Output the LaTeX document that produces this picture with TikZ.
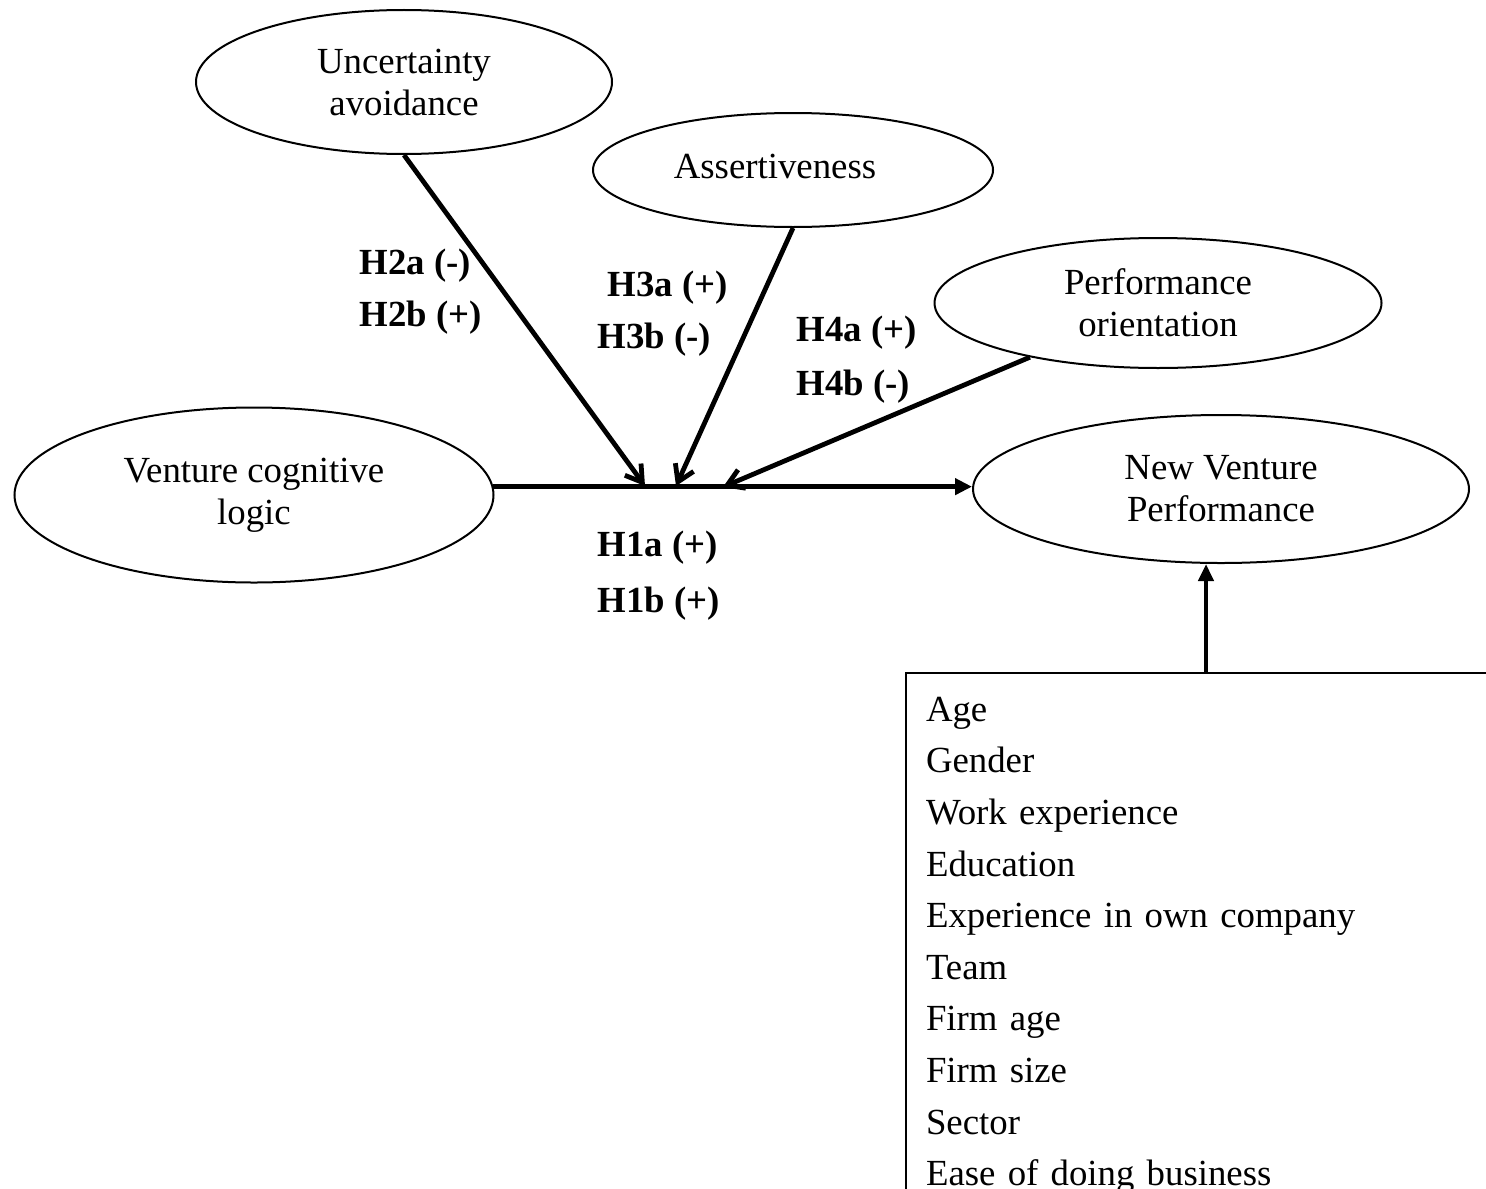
\documentclass[tikz,border=0pt]{standalone}
\usepackage{fontspec}
\setmainfont{Liberation Serif}
\usetikzlibrary{shapes.geometric, arrows.meta}

\begin{document}
\begin{tikzpicture}[
    x=0.5pt, y=-0.5pt,
    construct/.style={ellipse, draw, line width=1pt, inner sep=0pt, align=center, font=\fontsize{18.4}{21}\selectfont},
    hyp/.style={anchor=west, inner sep=0pt, font=\fontsize{18.4}{22}\selectfont\bfseries},
    ctrlbox/.style={rectangle, draw, line width=1pt, anchor=north west, align=left, text width=380pt, inner xsep=10pt, inner ysep=12pt, font=\fontsize{18.4}{25.8}\selectfont},
    mainarrow/.style={-{Triangle[length=8.5pt, width=8pt]}, line width=2.2pt},
    modarrow/.style={-{Straight Barb[length=8pt, width=10pt]}, line width=2.4pt},
    uparrow/.style={-{Triangle[length=8.5pt, width=7.5pt]}, line width=2.2pt}
]
\useasboundingbox (0,0) rectangle (1486,1188);
\clip (0,0) rectangle (1486,1188);

% Moderators
\node[construct, minimum width=208pt, minimum height=72pt] (ua) at (404,82) {Uncertainty\\avoidance};
\node[construct, minimum width=200pt, minimum height=57pt] (assert) at (793,170) {\raisebox{4pt}{Assertiveness}\hspace*{18pt}};
\node[construct, minimum width=223.5pt, minimum height=65pt] (po) at (1158,303) {Performance\\orientation};

% Main constructs
\node[construct, minimum width=239.5pt, minimum height=87.5pt] (vcl) at (254,495) {Venture cognitive\\logic};
\node[construct, minimum width=248pt, minimum height=74pt] (nvp) at (1221,489) {New Venture\\Performance};

% Control variables
\node[ctrlbox] (controls) at (905,672) {Age\\Gender\\Work experience\\Education\\Experience in own company\\Team\\Firm age\\Firm size\\Sector\\Ease of doing business};

% Hypotheses
\node[hyp] (h2a) at (359,266) {H2a (-)};
\node[hyp] (h2b) at (359,318) {H2b (+)};
\node[hyp] (h3a) at (607,288) {H3a (+)};
\node[hyp] (h3b) at (597,340) {H3b (-)};
\node[hyp] (h4a) at (796,333) {H4a (+)};
\node[hyp] (h4b) at (796,387) {H4b (-)};
\node[hyp] (h1a) at (597,548) {H1a (+)};
\node[hyp] (h1b) at (597,604) {H1b (+)};

% Points on the main path
\coordinate (ua-in) at (645,486);
\coordinate (as-in) at (676,486);
\coordinate (po-in) at (723,487);
\coordinate (ctrl-out) at (1206,672);

% Arrows
\draw[mainarrow] (vcl.2) -- (vcl.2 -| nvp.west);
\draw[modarrow] (ua.south) -- (ua-in);
\draw[modarrow] (assert.south) -- (as-in);
\draw[modarrow] (po) -- (po-in);
\draw[uparrow] (ctrl-out) -- (ctrl-out |- nvp.south);

\end{tikzpicture}
\end{document}
